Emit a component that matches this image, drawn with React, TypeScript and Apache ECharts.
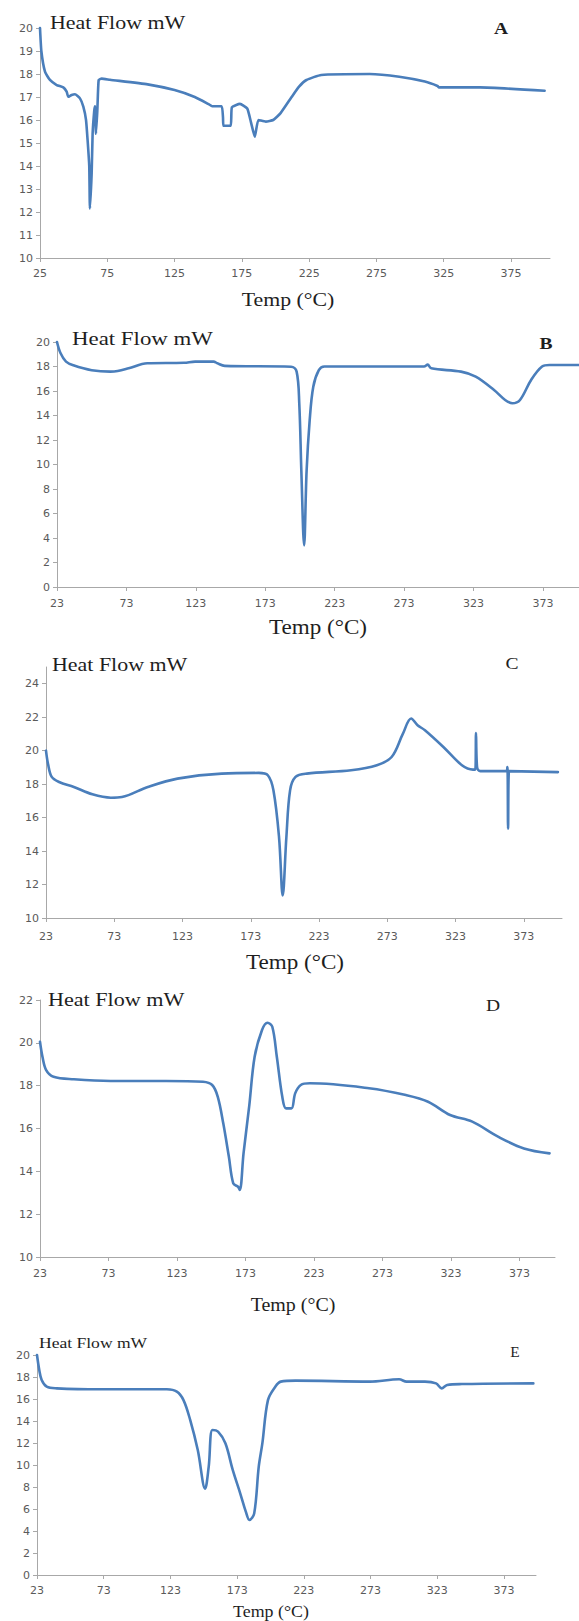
import { useEffect, useRef } from "react";
import * as echarts from "echarts";

// ---- Panel A ----
const tempA = [25, 26, 28.7, 32.4, 37.4, 42.3, 44.8, 46, 48.5, 51, 54.7, 57.2, 59.2, 60.4, 61.6, 62.1, 63.4, 64.1, 65.3, 65.9, 66.6, 67.6, 68.6, 70.8, 77, 105, 125, 140, 150, 153, 160, 161, 161.3, 166.7, 167.6, 173.6, 179, 181.8, 184.6, 187.3, 192.8, 198.3, 203.8, 212, 217.5, 223, 234, 270, 292, 311, 320.4, 321.5, 352, 400];
const heatA = [20.0, 19.0, 18.1, 17.74, 17.52, 17.42, 17.23, 17.01, 17.09, 17.12, 16.94, 16.58, 16.0, 15.1, 14.0, 12.15, 13.7, 15.4, 16.4, 16.6, 15.4, 16.4, 17.74, 17.8, 17.75, 17.55, 17.3, 17.0, 16.7, 16.6, 16.6, 16.1, 15.75, 15.75, 16.55, 16.7, 16.5, 15.9, 15.27, 16.0, 15.93, 16.0, 16.3, 17.0, 17.45, 17.74, 17.96, 18.0, 17.88, 17.67, 17.48, 17.42, 17.42, 17.27];

// ---- Panel B ----
const tempB = [23, 25.5, 29.5, 34.8, 48, 61.4, 66.7, 74.6, 88, 114.5, 122.5, 135.8, 138.5, 143.8, 191.6, 195.6, 197.5, 199, 201, 202.8, 205, 207.6, 211.6, 215.6, 287.4, 290, 292.6, 314, 324.6, 337.8, 345.8, 351, 356.5, 364.5, 372.4, 377.7, 399];
const heatB = [20.0, 19.1, 18.4, 18.1, 17.7, 17.58, 17.63, 17.85, 18.26, 18.3, 18.4, 18.4, 18.26, 18.05, 17.98, 17.58, 15.0, 9.5, 3.4, 9.5, 13.6, 16.35, 17.7, 18.0, 18.0, 18.15, 17.85, 17.58, 17.17, 16.08, 15.27, 15.0, 15.27, 16.9, 18.0, 18.12, 18.12];

// ---- Panel C ----
const tempC = [23, 24.5, 27.2, 32.6, 43.4, 57, 70.5, 78.6, 97.6, 119.3, 151.7, 178.8, 185.5, 189.6, 193.7, 196.4, 199.1, 201.8, 205.8, 214, 246.5, 265.4, 276.2, 284.4, 290.5, 295.2, 300.6, 314.1, 327.7, 335.8, 337.5, 338, 338.8, 341.2, 360.2, 361, 361.5, 362.2, 398];
const heatC = [20.0, 19.2, 18.43, 18.13, 17.83, 17.39, 17.19, 17.23, 17.83, 18.33, 18.63, 18.67, 18.53, 17.63, 14.84, 11.35, 14.84, 17.63, 18.43, 18.63, 18.83, 19.13, 19.62, 21.0, 21.92, 21.52, 21.22, 20.22, 19.13, 18.87, 18.87, 21.06, 19.0, 18.78, 18.78, 19.02, 15.34, 18.78, 18.72];

// ---- Panel D ----
const tempD = [23, 24.8, 27.5, 32.9, 47.7, 74.6, 115, 142, 148.7, 152.8, 156.8, 160.9, 164.1, 167.6, 168.9, 171.6, 175.7, 179.7, 185.1, 189.1, 192.6, 195.9, 199.9, 202.6, 206.6, 209.3, 213.4, 220.1, 263.2, 290.1, 306.3, 322.4, 338.6, 357.4, 376.3, 395];
const heatD = [20.05, 19.35, 18.73, 18.42, 18.3, 18.22, 18.22, 18.18, 18.03, 17.48, 16.24, 14.68, 13.44, 13.28, 13.13, 14.84, 17.02, 19.35, 20.6, 20.94, 20.75, 19.35, 17.48, 16.94, 16.94, 17.64, 18.03, 18.11, 17.88, 17.56, 17.25, 16.63, 16.32, 15.62, 15.07, 14.84];

// ---- Panel E ----
const tempE = [23, 24.7, 26.5, 30.3, 37.8, 70.3, 120.3, 127.8, 132.8, 137.8, 143.5, 149, 151.7, 154.5, 158.7, 164.2, 169.7, 175.3, 179.5, 182.2, 185.8, 189.2, 191.9, 196.1, 201.6, 205.7, 216.8, 272.3, 294.4, 300, 313.8, 322.1, 326.3, 330.4, 341.5, 395];
const heatE = [20.0, 18.64, 17.73, 17.12, 16.97, 16.88, 16.88, 16.67, 15.9, 14.1, 11.36, 7.85, 9.85, 13.18, 13.03, 11.97, 9.55, 7.43, 5.76, 5.0, 5.6, 9.85, 11.97, 15.9, 17.12, 17.58, 17.67, 17.58, 17.79, 17.58, 17.58, 17.42, 16.97, 17.27, 17.36, 17.42];

// ---- Tick labels ----
const xTicksA = [25, 75, 125, 175, 225, 275, 325, 375];
const xTicks = [23, 73, 123, 173, 223, 273, 323, 373];
const yTicksA = [10, 11, 12, 13, 14, 15, 16, 17, 18, 19, 20];
const yTicksB = [0, 2, 4, 6, 8, 10, 12, 14, 16, 18, 20];
const yTicksC = [10, 12, 14, 16, 18, 20, 22, 24];
const yTicksD = [10, 12, 14, 16, 18, 20, 22];
const yTicksE = [0, 2, 4, 6, 8, 10, 12, 14, 16, 18, 20];

const panelLetters = ["A", "B", "C", "D", "E"];
const yTitle = "Heat Flow mW";
const xTitle = "Temp (°C)";

const panels = [
  { t: tempA, h: heatA, xt: xTicksA, yt: yTicksA, xMin: 25, xMax: 404, yMin: 10, yMax: 20, yInt: 1, grid: { left: 40, top: 28, width: 510, height: 230 }, lm: 10 },
  { t: tempB, h: heatB, xt: xTicks, yt: yTicksB, xMin: 23, xMax: 399, yMin: 0, yMax: 20, yInt: 2, grid: { left: 57, top: 342, width: 522, height: 245 }, lm: 11 },
  { t: tempC, h: heatC, xt: xTicks, yt: yTicksC, xMin: 23, xMax: 401, yMin: 10, yMax: 25, yInt: 2, grid: { left: 46, top: 667, width: 516, height: 251 }, lm: 13 },
  { t: tempD, h: heatD, xt: xTicks, yt: yTicksD, xMin: 23, xMax: 399, yMin: 10, yMax: 22, yInt: 2, grid: { left: 40, top: 1000, width: 515, height: 257 }, lm: 11 },
  { t: tempE, h: heatE, xt: xTicks, yt: yTicksE, xMin: 23, xMax: 397, yMin: 0, yMax: 20, yInt: 2, grid: { left: 37, top: 1355, width: 499, height: 220 }, lm: 10 },
];

const SERIF = "Liberation Serif";

function txt(text: string, x: number, y: number, size: number, scaleX: number, align: string, bold = false) {
  return {
    type: "text",
    x,
    y,
    scaleX,
    silent: true,
    style: {
      text,
      fontSize: size,
      fontFamily: SERIF,
      fontWeight: bold ? "bold" : "normal",
      fill: "#1e1e1e",
      textAlign: align,
      textVerticalAlign: "middle",
      align,
      verticalAlign: "middle",
    },
  };
}

export default function App() {
  const ref = useRef<HTMLDivElement>(null);
  useEffect(() => {
    if (!ref.current) return;
    const chart = echarts.init(ref.current, undefined, { renderer: "svg" });
    const axisColor = "#a8a8a8";
    const labelStyle = { color: "#5a5a5a", fontSize: 11, fontFamily: "DejaVu Sans" };

    const option: any = {
      animation: false,
      backgroundColor: "#ffffff",
      grid: panels.map((p) => ({ ...p.grid, containLabel: false })),
      xAxis: panels.map((p, i) => ({
        type: "value",
        gridIndex: i,
        min: p.xMin,
        max: p.xMax,
        interval: 50,
        axisLine: { show: true, onZero: false, lineStyle: { color: axisColor, width: 1 } },
        axisTick: { show: true, length: 4, customValues: p.xt, lineStyle: { color: axisColor } },
        axisLabel: { ...labelStyle, margin: p.lm, customValues: p.xt },
        splitLine: { show: false },
      })),
      yAxis: panels.map((p, i) => ({
        type: "value",
        gridIndex: i,
        min: p.yMin,
        max: p.yMax,
        interval: p.yInt,
        axisLine: { show: true, lineStyle: { color: axisColor, width: 1 } },
        axisTick: { show: true, length: 4, customValues: p.yt, lineStyle: { color: axisColor } },
        axisLabel: { ...labelStyle, margin: 7, customValues: p.yt },
        splitLine: { show: false },
      })),
      series: panels.map((p, i) => ({
        type: "line",
        xAxisIndex: i,
        yAxisIndex: i,
        data: p.t.map((tv, k) => [tv, p.h[k]]),
        showSymbol: false,
        symbol: "none",
        smooth: i === 0 ? 0.15 : 0.35,
        lineStyle: { color: "#4a7ebb", width: 2.6, join: "round", cap: "round" },
        itemStyle: { color: "#4a7ebb" },
        clip: false,
      })),
      graphic: [
        txt(yTitle, 50, 23, 18, 1.22, "left"),
        txt(yTitle, 72, 339, 18, 1.27, "left"),
        txt(yTitle, 52, 665, 18, 1.22, "left"),
        txt(yTitle, 48, 1000, 18, 1.23, "left"),
        txt(yTitle, 39, 1343, 15, 1.17, "left"),
        txt(panelLetters[0], 501, 28, 17, 1.15, "center", true),
        txt(panelLetters[1], 546, 343, 17, 1.15, "center", true),
        txt(panelLetters[2], 512, 663, 17, 1.15, "center"),
        txt(panelLetters[3], 493, 1005, 17, 1.15, "center"),
        txt(panelLetters[4], 515, 1352, 14, 1.1, "center"),
        txt(xTitle, 288, 300, 19, 1.15, "center"),
        txt(xTitle, 318, 627, 21, 1.1, "center"),
        txt(xTitle, 295, 962, 21, 1.1, "center"),
        txt(xTitle, 293, 1305, 19, 1.05, "center"),
        txt(xTitle, 271, 1611, 17, 1.05, "center"),
      ],
    };
    chart.setOption(option);
    return () => chart.dispose();
  }, []);

  return (
    <div
      ref={ref}
      style={{ position: "absolute", left: 0, top: 0, width: 579, height: 1621, background: "#fff" }}
    />
  );
}
